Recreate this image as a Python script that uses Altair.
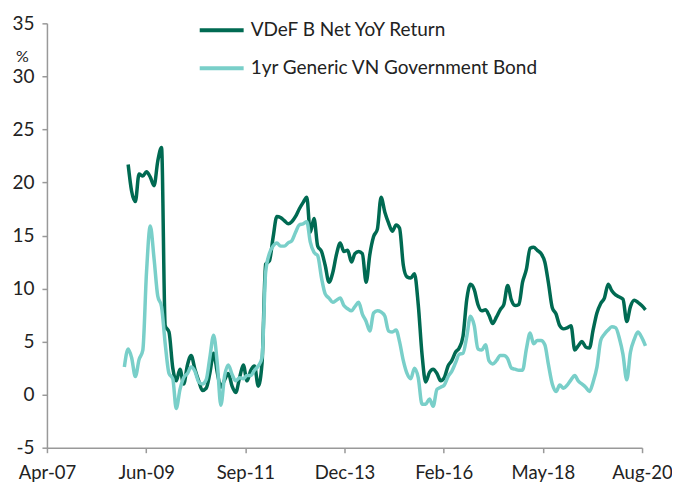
import calendar
import altair as alt
import pandas as pd

# ---- data (monthly, month-end, Dec-2008 .. Aug-2020) ----
start_year, start_month, n_months = 2008, 12, 141

series_names = ["VDeF B Net YoY Return", "1yr Generic VN Government Bond"]

vdef = [None,
        21.7, 19.2, 18.2, 20.8, 20.6, 21.0, 20.5, 19.7, 22.0,
        23.3, 6.5, 5.9, 2.5, 1.3, 2.4, 1.0, 2.8, 3.7, 2.4,
        1.3, 0.4, 0.6, 2.0, 3.9, 2.0, 0.7, 1.4, 2.0, 0.8,
        0.2, 1.6, 2.8, 1.3, 2.3, 2.7, 0.8, 3.0, 12.3, 12.6,
        14.8, 16.8, 16.7, 16.4, 16.1, 16.3, 16.8, 17.5, 18.1, 18.6,
        15.3, 16.6, 14.0, 13.5, 12.2, 10.6, 11.5, 13.2, 14.3, 13.5,
        13.6, 12.5, 13.3, 13.5, 13.3, 10.6, 13.2, 14.9, 15.6, 18.6,
        17.2, 16.2, 15.4, 16.0, 15.7, 12.2, 11.1, 11.0, 11.4, 8.5,
        3.8, 1.2, 2.1, 2.4, 2.0, 1.3, 1.6, 2.7, 3.2, 4.0,
        4.4, 5.5, 9.0, 10.4, 9.9, 8.5, 7.9, 8.0, 7.5, 6.7,
        7.3, 8.0, 8.5, 10.3, 8.9, 8.4, 8.5, 10.6, 11.8, 13.8,
        13.9, 13.6, 13.3, 12.5, 10.5, 8.2, 7.6, 6.5, 6.2, 6.3,
        6.5, 4.2, 4.6, 5.0, 4.5, 4.4, 6.1, 7.7, 8.6, 9.1,
        10.4, 9.8, 9.4, 9.2, 9.0, 6.9, 8.3, 8.9, 8.7, 8.4, 8.0]

bond = [2.6, 4.3, 3.5, 1.7, 3.3, 4.2, 11.5, 15.9, 12.8, 9.3,
        8.3, 4.8, 2.0, 1.5, -1.3, 0.5, 1.6, 2.0, 2.6, 2.2,
        1.2, 1.0, 1.4, 3.5, 5.6, 2.8, -1.0, 1.8, 2.8, 1.9,
        1.3, 1.6, 1.5, 1.8, 1.8, 2.3, 2.7, 3.5, 11.5, 13.3,
        14.0, 14.3, 14.0, 14.0, 14.3, 14.5, 15.3, 16.0, 16.1, 16.3,
        14.4, 13.4, 13.1, 11.0, 9.5, 9.1, 8.7, 8.9, 9.1, 8.4,
        8.1, 7.9, 8.3, 8.7, 7.6, 6.9, 6.0, 7.7, 7.9, 7.8,
        7.4, 6.0, 5.9, 6.1, 5.0, 3.2, 2.0, 1.5, 2.5, 1.6,
        -0.9, -0.9, -0.4, -1.1, 0.5, 0.7, 0.9, 1.7, 2.2, 3.0,
        3.8, 3.9, 5.5, 7.4, 6.5, 4.3, 4.2, 4.7, 3.2, 2.9,
        3.2, 3.7, 3.7, 3.4, 2.5, 2.4, 2.3, 2.3, 4.3, 5.8,
        4.8, 5.1, 5.1, 4.7, 2.8, 1.0, 0.3, 0.9, 0.6, 0.9,
        1.4, 1.8, 1.3, 1.0, 0.7, 0.3, 1.2, 2.6, 5.1, 5.7,
        6.1, 6.4, 6.3, 5.3, 3.8, 1.4, 4.0, 5.2, 5.9, 5.4, 4.6]

x_ticks = [(2007, 4, 8), (2009, 6, 27), (2011, 9, 16), (2013, 12, 5),
           (2016, 2, 24), (2018, 5, 15), (2020, 8, 3)]
y_ticks = [-5, 0, 5, 10, 15, 20, 25, 30, 35]

dark = "#006A52"
light = "#79CFC9"
FONT = "Lato"

# ---- build table ----
dates = []
y, m = start_year, start_month
for _ in range(n_months):
    last = calendar.monthrange(y, m)[1]
    dates.append(f"{y:04d}-{m:02d}-{last:02d}")
    m += 1
    if m > 12:
        m = 1
        y += 1

rows = []
for name, vals in zip(series_names, [vdef, bond]):
    for d, v in zip(dates, vals):
        if v is not None:
            rows.append({"date": d, "series": name, "value": v})
df = pd.DataFrame(rows)

tick_dt = [alt.DateTime(year=a, month=b, date=c) for a, b, c in x_ticks]

chart = alt.Chart(df).mark_line(strokeWidth=3.5, interpolate="monotone").encode(
    x=alt.X("date:T",
            scale=alt.Scale(domain=[tick_dt[0], tick_dt[-1]]),
            axis=alt.Axis(values=tick_dt, format="%b-%y", title=None,
                          labelFontSize=18.5, labelPadding=11, tickSize=5,
                          labelFlush=False, labelOverlap=False)),
    y=alt.Y("value:Q",
            scale=alt.Scale(domain=[-5, 35], nice=False, zero=False),
            axis=alt.Axis(values=y_ticks, title="%", titleAngle=0,
                          labelExpr="'' + datum.value",
                          titleX=-25, titleY=33, titleAlign="center",
                          titleBaseline="middle", titleFontSize=16,
                          titleFontWeight="normal",
                          labelFontSize=19, labelPadding=8, tickSize=5)),
    color=alt.Color("series:N",
                    scale=alt.Scale(domain=series_names, range=[dark, light]),
                    sort=series_names,
                    legend=alt.Legend(title=None, orient="none",
                                      legendX=151, legendY=-17,
                                      symbolType="stroke", symbolStrokeWidth=4,
                                      symbolSize=1936, labelFontSize=19,
                                      labelOffset=5, rowPadding=4,
                                      labelLimit=500,
                                      padding=0, labelColor="#222222")),
    order=alt.Order("series_order:Q"),
).transform_calculate(
    series_order=f"datum.series == '{series_names[0]}' ? 0 : 1"
).properties(
    width=596,
    height=425,
    autosize=alt.AutoSizeParams(type="none"),
    padding={"left": 39, "top": 15, "right": 30, "bottom": 38},
).configure_view(
    stroke=None
).configure_axis(
    domainColor="#999999", domainWidth=1.5, tickColor="#999999", tickWidth=1.5,
    labelColor="#222222", titleColor="#222222", grid=False,
    labelFont=FONT, titleFont=FONT
).configure_legend(
    labelFont=FONT
)

chart.save("out.html", embed_options={"renderer": "svg", "actions": False})
